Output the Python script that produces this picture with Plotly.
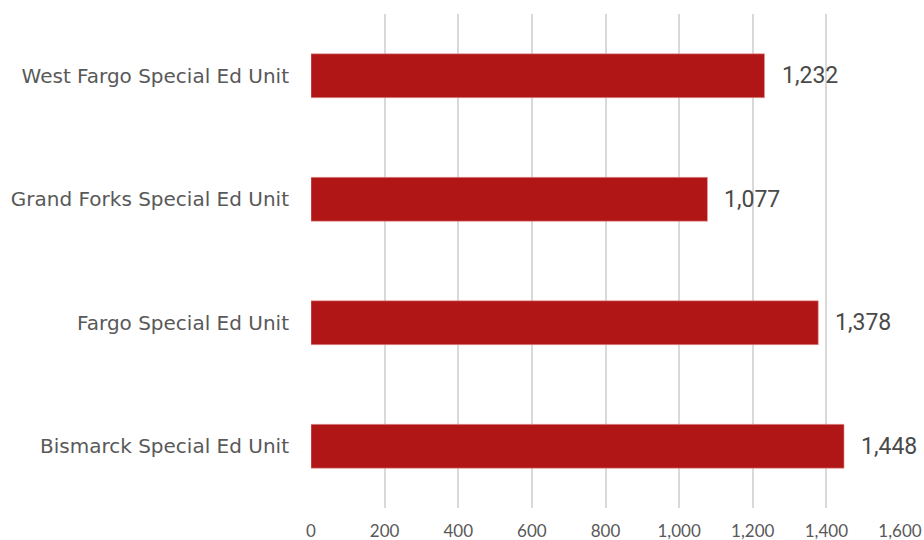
import plotly.graph_objects as go

categories = ["Bismarck Special Ed Unit", "Fargo Special Ed Unit",
              "Grand Forks Special Ed Unit", "West Fargo Special Ed Unit"]
values = [1448, 1378, 1077, 1232]
x_ticks = [0, 200, 400, 600, 800, 1000, 1200, 1400, 1600]
x_tick_labels = ["0", "200", "400", "600", "800", "1,000", "1,200", "1,400", "1,600"]

fig = go.Figure()
fig.add_trace(go.Bar(
    y=categories, x=values, orientation="h",
    width=0.356,
    marker=dict(color="#B01616", line=dict(color="#E8A0A0", width=0.6)),
    hoverinfo="skip",
))

for c, v in zip(categories, values):
    fig.add_annotation(
        x=v, y=c, text=f"{v:,}", showarrow=False,
        xanchor="left", yanchor="middle", xshift=15,
        font=dict(family="Roboto", size=23, color="#4A4A4A"),
    )

fig.update_layout(
    width=924, height=540,
    margin=dict(l=311, r=24, t=14, b=32),
    paper_bgcolor="white", plot_bgcolor="white",
    showlegend=False,
    bargap=0.644,
    xaxis=dict(
        range=[0, 1600], tickvals=x_ticks, ticktext=x_tick_labels,
        showgrid=True, gridcolor="#D9D9D9", gridwidth=2,
        zeroline=False, showline=False, ticks="",
        tickfont=dict(family="Lato", size=17, color="#595959"),
        ticklabelstandoff=11,
        automargin=False,
    ),
    yaxis=dict(
        categoryorder="array", categoryarray=categories,
        showgrid=False, zeroline=False, showline=False, ticks="",
        tickfont=dict(family="DejaVu Sans", size=20, color="#595959"),
        ticklabelstandoff=21,
        automargin=False,
    ),
)

fig.write_html(
    "out.html",
    config={"displayModeBar": False},
    post_script="document.body.style.margin='0';document.body.style.overflow='hidden';",
)
